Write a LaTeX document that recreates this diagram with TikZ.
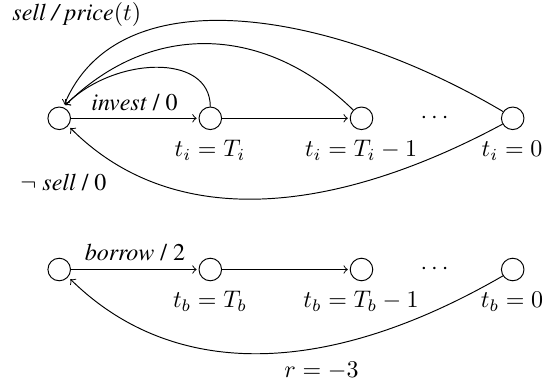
\documentclass[tikz,border=0pt]{standalone}
\usepackage[T1]{fontenc}
\usepackage{times}
\begin{document}
\begin{tikzpicture}[x=0.4167pt,y=-0.4167pt,
  state/.style={draw,circle,minimum size=9.4pt,inner sep=0pt},
  lbl/.style={inner sep=0pt,anchor=base},
  edge/.style={->,shorten >=0.8pt},
  back/.style={->,shorten >=1.25pt}]
\useasboundingbox (0,0) rectangle (558,385);
% top row
\node[state] (a0) at (59.2,118.3) {};
\node[state] (a1) at (210.3,118.3) {};
\node[state] (a2) at (361.5,118.3) {};
\node[state] (a3) at (512.7,118.3) {};
\node[inner sep=0pt] (adots) at (434.5,118.3) {$\cdots$};
\node[lbl] (la1) at (210,156.7) {$t_i = T_i$};
\node[lbl] (la2) at (361,156.7) {$t_i = T_i - 1$};
\node[lbl] (la3) at (512,156.7) {$t_i = 0$};
\node[lbl] (linv) at (134.5,110.5) {\textit{invest} / 0};
\node[lbl,anchor=base west] (lsell) at (12,20.7) {\textit{sell / price}$(t)$};
\node[lbl,anchor=base west] (lnsell) at (20,190.5) {$\neg$ \textit{sell} / 0};
\draw[edge] (a0) -- (a1);
\draw[edge] (a1) -- (a2);
\draw[back] (a1.north) .. controls (210,52) and (113,57) .. (a0.70);
\draw[back] (a2.135) .. controls (267,26) and (153,19) .. (a0.70);
\draw[back] (a3.145) .. controls (335,12) and (120,-27) .. (a0.70);
\draw[back] (a3.210) .. controls (339,212) and (176,234) .. (a0.-40);
% bottom row
\node[state] (b0) at (59.2,269.5) {};
\node[state] (b1) at (210.3,269.5) {};
\node[state] (b2) at (361.5,269.5) {};
\node[state] (b3) at (512.7,269.5) {};
\node[inner sep=0pt] (bdots) at (434.5,269.5) {$\cdots$};
\node[lbl] (lb1) at (210,307.9) {$t_b = T_b$};
\node[lbl] (lb2) at (361,307.9) {$t_b = T_b - 1$};
\node[lbl] (lb3) at (512,307.9) {$t_b = 0$};
\node[lbl] (lbor) at (135,260.7) {\textit{borrow} / 2};
\node[lbl] (lr) at (321.5,377.7) {$r = -3$};
\draw[edge] (b0) -- (b1);
\draw[edge] (b1) -- (b2);
\draw[back] (b3.213) .. controls (328,377) and (174,381) .. (b0.-40);
\end{tikzpicture}
\end{document}
